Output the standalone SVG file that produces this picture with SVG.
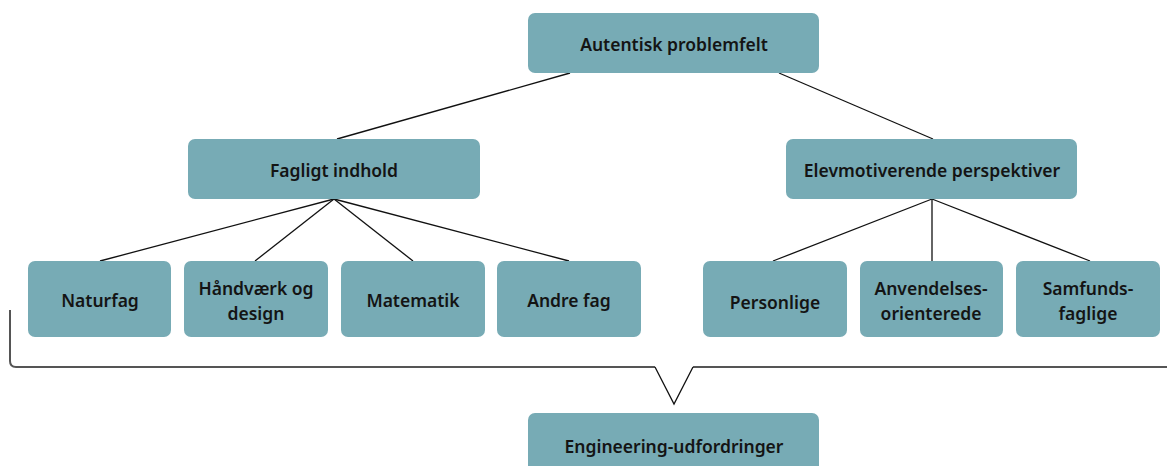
<svg xmlns="http://www.w3.org/2000/svg" width="1167" height="466" viewBox="0 0 1167 466">
<style>
.box{fill:#77abb5;}
.t{font-family:"Noto Sans","Liberation Sans",sans-serif;font-weight:600;font-size:17.5px;fill:#141414;text-anchor:middle;dominant-baseline:central;}
.c{stroke:#111;stroke-width:1.3;fill:none;}
.br{stroke:#555;stroke-width:2;fill:none;}
</style>
<rect width="1167" height="466" fill="#fff"/>
<g id="connectors">
<line class="c" x1="570" y1="73" x2="337" y2="139"/>
<line class="c" x1="779" y1="73" x2="933" y2="139"/>
<line class="c" x1="334" y1="199" x2="100" y2="261"/>
<line class="c" x1="334" y1="199" x2="255" y2="261"/>
<line class="c" x1="334" y1="199" x2="413" y2="261"/>
<line class="c" x1="334" y1="199" x2="569" y2="261"/>
<line class="c" x1="932" y1="199" x2="773" y2="261"/>
<line class="c" x1="932" y1="199" x2="932" y2="261"/>
<line class="c" x1="932" y1="199" x2="1090" y2="261"/>
<path class="br" d="M10,310 V361 Q10,367 16,367 H655"/>
<path class="br" d="M693,367 H1167"/>
<path class="c" d="M655,367 L674,404 L693,367"/>
</g>
<g id="n-top"><rect class="box" x="528" y="13" width="291" height="60" rx="7"/><text class="t" x="674" y="44">Autentisk problemfelt</text></g>
<g id="n-faglig"><rect class="box" x="188" y="139" width="292" height="60" rx="7"/><text class="t" x="334" y="170">Fagligt indhold</text></g>
<g id="n-elev"><rect class="box" x="786" y="139" width="291" height="60" rx="7"/><text class="t" x="932" y="170">Elevmotiverende perspektiver</text></g>
<g id="n-natur"><rect class="box" x="28" y="261" width="143" height="76" rx="7"/><text class="t" x="100" y="300">Naturfag</text></g>
<g id="n-haand"><rect class="box" x="184" y="261" width="144" height="76" rx="7"/><text class="t" x="256" y="288">Håndværk og</text><text class="t" x="256" y="313">design</text></g>
<g id="n-mat"><rect class="box" x="341" y="261" width="144" height="76" rx="7"/><text class="t" x="413" y="300">Matematik</text></g>
<g id="n-andre"><rect class="box" x="497" y="261" width="144" height="76" rx="7"/><text class="t" x="569" y="300">Andre fag</text></g>
<g id="n-pers"><rect class="box" x="703" y="261" width="144" height="76" rx="7"/><text class="t" x="775" y="302">Personlige</text></g>
<g id="n-anv"><rect class="box" x="860" y="261" width="143" height="76" rx="7"/><text class="t" x="931" y="288">Anvendelses-</text><text class="t" x="931" y="313">orienterede</text></g>
<g id="n-samf"><rect class="box" x="1016" y="261" width="144" height="76" rx="7"/><text class="t" x="1088" y="288">Samfunds-</text><text class="t" x="1088" y="313">faglige</text></g>
<g id="n-eng"><rect class="box" x="528" y="413" width="291" height="70" rx="7"/><text class="t" x="674" y="446">Engineering-udfordringer</text></g>
</svg>
